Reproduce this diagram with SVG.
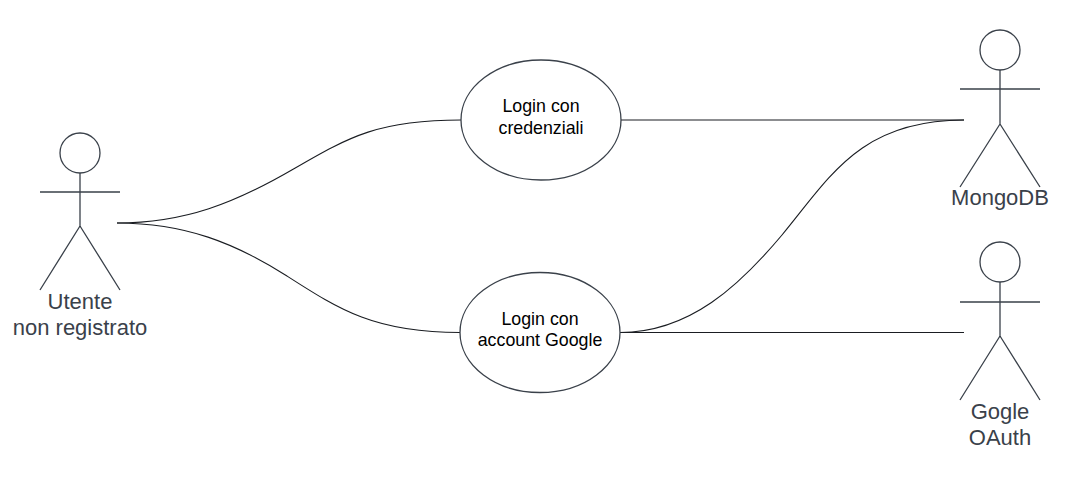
<svg xmlns="http://www.w3.org/2000/svg" width="1080" height="480" viewBox="0 0 1080 480">
<style>
.s{fill:none;stroke:#3a414a;stroke-width:1.3}
.e{fill:#fff;stroke:#3a414a;stroke-width:1.3}
.c{fill:none;stroke:#1a1d22;stroke-width:1.1;stroke-linecap:butt}
.a{font-family:"Liberation Sans",Arial,sans-serif;font-size:22px;fill:#3a414a;text-anchor:middle}
.u{font-family:"Liberation Sans",Arial,sans-serif;font-size:17.8px;fill:#000;text-anchor:middle}
</style>
<rect width="1080" height="480" fill="#fff"/>
<g id="connectors">
<path class="c" d="M117 223C185 223 235 203 293.500 169C350 136 380 120 461 120"/>
<path class="c" d="M117 223C185 223 235 243 287 276C340 310 375 332.500 460 332.500"/>
<path class="c" d="M621 120H964"/>
<path class="c" d="M620 332.500C690 332.500 740 285 782 235C830 177 860 120 964 120"/>
<path class="c" d="M620 332.500H964"/>
</g>
<g id="actor-utente">
<circle class="s" cx="80" cy="153" r="20"/>
<path class="s" d="M80 173V226M40 192H120M80 226L40 290M80 226L120 290"/>
<text class="a" x="80" y="309">Utente</text>
<text class="a" x="80" y="335">non registrato</text>
</g>
<g id="usecase-credenziali">
<ellipse class="e" cx="541" cy="120" rx="80" ry="60"/>
<text class="u" x="541" y="112">Login con</text>
<text class="u" x="541" y="133.500">credenziali</text>
</g>
<g id="usecase-google">
<ellipse class="e" cx="540" cy="332.500" rx="80" ry="60"/>
<text class="u" x="540" y="324.500">Login con</text>
<text class="u" x="540" y="346">account Google</text>
</g>
<g id="actor-mongodb">
<circle class="s" cx="1000" cy="50" r="20"/>
<path class="s" d="M1000 70V124M960 89H1040M1000 124L960 187M1000 124L1040 187"/>
<text class="a" x="1000" y="205">MongoDB</text>
</g>
<g id="actor-oauth">
<circle class="s" cx="1000" cy="262" r="20"/>
<path class="s" d="M1000 282V336M960 302H1040M1000 336L960 400M1000 336L1040 400"/>
<text class="a" x="1000" y="419">Gogle</text>
<text class="a" x="1000" y="445">OAuth</text>
</g>
</svg>
